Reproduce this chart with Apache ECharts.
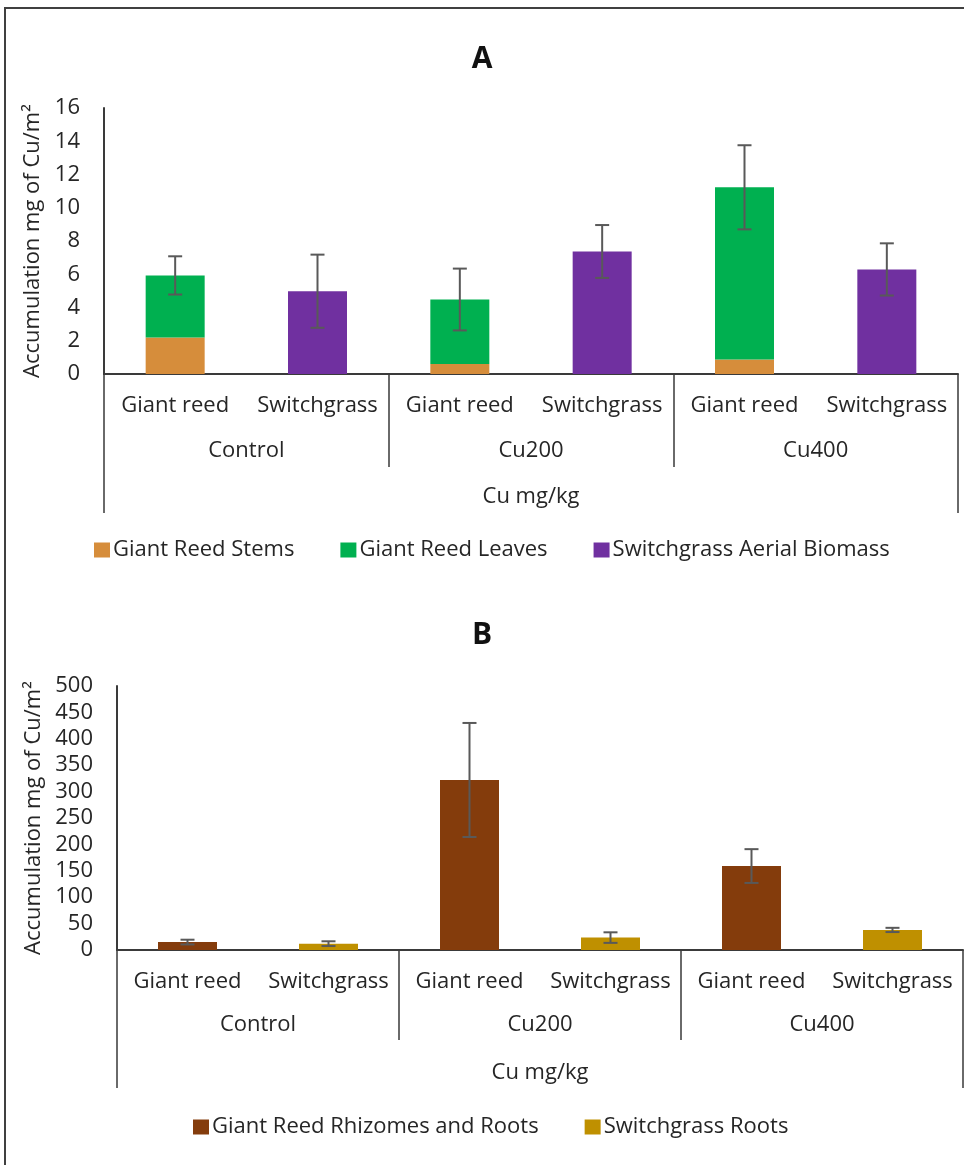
<!DOCTYPE html>
<html>
<head>
<meta charset="utf-8">
<script src="https://cdn.jsdelivr.net/npm/echarts@6/dist/echarts.min.js"></script>
<style>
html,body{margin:0;padding:0;background:#fff;}
#chart{width:964px;height:1165px;}
</style>
</head>
<body>
<div id="chart"></div>
<script>
// ---- data ----
const plants = ['Giant reed', 'Switchgrass'];
const treatments = ['Control', 'Cu200', 'Cu400'];
const groupTitle = ['Cu mg/kg'];
const panelTitles = ['A', 'B'];
const yAxisTitle = 'Accumulation mg of Cu/m\u00B2';

// Panel A (per treatment)
const seriesNamesA = ['Giant Reed Stems', 'Giant Reed Leaves', 'Switchgrass Aerial Biomass'];
const giantStemsA = [2.2, 0.6, 0.87];
const giantLeavesA = [3.73, 3.88, 10.36];
const switchAerialA = [4.98, 7.37, 6.29];
const giantErrA = [1.15, 1.86, 2.53];
const switchErrA = [2.2, 1.59, 1.57];
const yMaxA = 16, yStepA = 2;

// Panel B (per treatment)
const seriesNamesB = ['Giant Reed Rhizomes and Roots', 'Switchgrass Roots'];
const giantRootsB = [15, 322, 159];
const switchRootsB = [12, 23.5, 38];
const giantErrB = [4.5, 108, 32];
const switchErrB = [4.5, 10, 4];
const yMaxB = 500, yStepB = 50;

// ---- helpers ----
const cats = treatments.flatMap(() => plants);
function onGiant(arr) { return treatments.flatMap((t, i) => [arr[i], '-']); }
function onSwitch(arr) { return treatments.flatMap((t, i) => ['-', arr[i]]); }
function errData(giantTotals, giantErr, switchTotals, switchErr) {
  const out = [];
  treatments.forEach((t, i) => {
    out.push([2 * i, giantTotals[i] - giantErr[i], giantTotals[i] + giantErr[i]]);
    out.push([2 * i + 1, switchTotals[i] - switchErr[i], switchTotals[i] + switchErr[i]]);
  });
  return out;
}
const giantTotalA = giantStemsA.map((v, i) => v + giantLeavesA[i]);

const FONT = 'Open Sans';
const TXT = '#262626';
const AX = '#3a3a3a';
const ERR = '#595959';

function errRender(params, api) {
  const x = api.value(0);
  const top = api.coord([x, api.value(2)]);
  const bot = api.coord([x, api.value(1)]);
  const hw = 7;
  const st = { stroke: ERR, lineWidth: 2 };
  return {
    type: 'group',
    children: [
      { type: 'line', shape: { x1: top[0], y1: top[1], x2: bot[0], y2: bot[1] }, style: st },
      { type: 'line', shape: { x1: top[0] - hw, y1: top[1], x2: top[0] + hw, y2: top[1] }, style: st },
      { type: 'line', shape: { x1: bot[0] - hw, y1: bot[1], x2: bot[0] + hw, y2: bot[1] }, style: st }
    ]
  };
}

function xAxes(gridIndex, tickGroup, tickOuter, mPlant, mGroup, mTitle) {
  const lbl = { color: TXT, fontSize: 22, fontFamily: FONT };
  return [
    {
      type: 'category', gridIndex, position: 'bottom', data: cats,
      axisLine: { show: true, onZero: false, lineStyle: { color: AX, width: 2 } },
      axisTick: { show: false },
      axisLabel: Object.assign({ margin: mPlant, interval: 0 }, lbl)
    },
    {
      type: 'category', gridIndex, position: 'bottom', data: treatments,
      axisLine: { show: false },
      axisTick: { show: true, length: tickGroup, lineStyle: { color: AX, width: 1.5 } },
      axisLabel: Object.assign({ margin: mGroup, interval: 0 }, lbl)
    },
    {
      type: 'category', gridIndex, position: 'bottom', data: groupTitle,
      axisLine: { show: false },
      axisTick: { show: true, length: tickOuter, lineStyle: { color: AX, width: 1.5 } },
      axisLabel: Object.assign({ margin: mTitle, interval: 0 }, lbl)
    }
  ];
}

function yAxis(gridIndex, max, step, nameGap, margin) {
  return {
    type: 'value', gridIndex, min: 0, max, interval: step,
    name: yAxisTitle, nameLocation: 'middle', nameGap,
    nameTextStyle: { color: TXT, fontSize: 22, fontFamily: FONT },
    axisLine: { show: true, lineStyle: { color: AX, width: 2 } },
    axisTick: { show: false },
    splitLine: { show: false },
    axisLabel: { color: TXT, fontSize: 22, fontFamily: FONT, margin }
  };
}

const legendCommon = {
  orient: 'horizontal', itemWidth: 16, itemHeight: 15, itemGap: 46, icon: 'rect',
  textStyle: { color: TXT, fontSize: 22, fontFamily: FONT, padding: [0, 0, 0, -2] }
};

const option = {
  animation: false,
  backgroundColor: '#fff',
  textStyle: { fontFamily: FONT },
  graphic: [{
    type: 'polyline', silent: true,
    shape: { points: [[5, 1170], [5, 8], [970, 8]] },
    style: { stroke: '#404040', lineWidth: 2, fill: null }
  }],
  title: [
    { text: panelTitles[0], left: 'center', top: 39, textStyle: { fontSize: 30, fontWeight: 'bold', color: '#111', fontFamily: FONT } },
    { text: panelTitles[1], left: 'center', top: 615, textStyle: { fontSize: 30, fontWeight: 'bold', color: '#111', fontFamily: FONT } }
  ],
  grid: [
    { left: 104, right: 6, top: 108, height: 266 },
    { left: 117, right: 1, top: 686, height: 264 }
  ],
  xAxis: [].concat(
    xAxes(0, 93, 139, 21, 66, 112),
    xAxes(1, 90, 138, 21, 64, 112)
  ),
  yAxis: [
    yAxis(0, yMaxA, yStepA, 58, 24),
    yAxis(1, yMaxB, yStepB, 71, 24)
  ],
  legend: [
    Object.assign({ data: seriesNamesA, left: 89, top: 534 }, legendCommon),
    Object.assign({ data: seriesNamesB, left: 188, top: 1111 }, legendCommon)
  ],
  series: [
    { name: seriesNamesA[0], type: 'bar', stack: 'a', xAxisIndex: 0, yAxisIndex: 0, barWidth: 59,
      itemStyle: { color: '#D68D3B' }, data: onGiant(giantStemsA) },
    { name: seriesNamesA[1], type: 'bar', stack: 'a', xAxisIndex: 0, yAxisIndex: 0, barWidth: 59,
      itemStyle: { color: '#00B050' }, data: onGiant(giantLeavesA) },
    { name: seriesNamesA[2], type: 'bar', stack: 'a', xAxisIndex: 0, yAxisIndex: 0, barWidth: 59,
      itemStyle: { color: '#7030A0' }, data: onSwitch(switchAerialA) },
    { name: 'errA', type: 'custom', xAxisIndex: 0, yAxisIndex: 0, z: 10,
      renderItem: errRender, encode: { x: 0, y: [1, 2] },
      data: errData(giantTotalA, giantErrA, switchAerialA, switchErrA) },

    { name: seriesNamesB[0], type: 'bar', stack: 'b', xAxisIndex: 3, yAxisIndex: 1, barWidth: 59,
      itemStyle: { color: '#843C0C' }, data: onGiant(giantRootsB) },
    { name: seriesNamesB[1], type: 'bar', stack: 'b', xAxisIndex: 3, yAxisIndex: 1, barWidth: 59,
      itemStyle: { color: '#BF9000' }, data: onSwitch(switchRootsB) },
    { name: 'errB', type: 'custom', xAxisIndex: 3, yAxisIndex: 1, z: 10,
      renderItem: errRender, encode: { x: 0, y: [1, 2] },
      data: errData(giantRootsB, giantErrB, switchRootsB, switchErrB) }
  ]
};

const chart = echarts.init(document.getElementById('chart'), null, { renderer: 'canvas' });
chart.setOption(option);
</script>
</body>
</html>
